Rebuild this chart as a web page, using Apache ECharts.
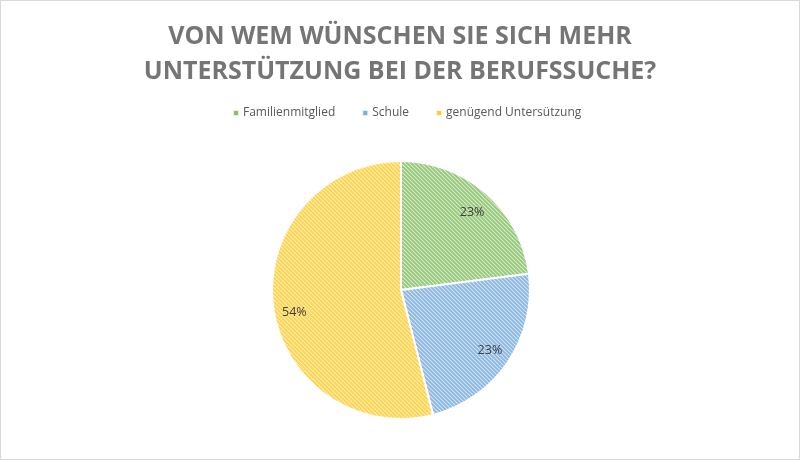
<!DOCTYPE html>
<html>
<head>
<meta charset="utf-8">
<script src="https://cdn.jsdelivr.net/npm/echarts@6/dist/echarts.min.js"></script>
<style>
  html, body { margin: 0; padding: 0; background: #fff; }
  #main { width: 798px; height: 458px; border: 1px solid #d9d9d9; }
</style>
</head>
<body>
<div id="main"></div>
<script>
const titleLines = ['VON WEM WÜNSCHEN SIE SICH MEHR', 'UNTERSTÜTZUNG BEI DER BERUFSSUCHE?'];
const categories = ['Familienmitglied', 'Schule', 'genügend Untersützung'];
const shares = [23, 23, 54];
const lineColors = ['#96c77a', '#8ab6e0', '#ffd34d'];
const backColors = ['#d9eccd', '#d4e5f6', '#ffeeb8'];
const legendColors = ['#70ad47', '#5b9bd5', '#ffc000'];
const labelOffsets = [[0, 3], [0, 0], [0, 9]];

// hatched fill, like the office chart pattern
function hatch(line, back) {
  const c = document.createElement('canvas');
  c.width = 4; c.height = 4;
  const g = c.getContext('2d');
  g.fillStyle = back;
  g.fillRect(0, 0, 4, 4);
  g.strokeStyle = line;
  g.lineWidth = 1.8;
  g.beginPath();
  g.moveTo(-1, -1); g.lineTo(5, 5);
  g.moveTo(-1, 3); g.lineTo(1, 5);
  g.moveTo(3, -1); g.lineTo(5, 1);
  g.stroke();
  return c;
}

const pieData = categories.map((name, i) => ({
  name: name,
  value: shares[i],
  itemStyle: { color: { image: hatch(lineColors[i], backColors[i]), repeat: 'repeat' } }
}));

const myChart = echarts.init(document.getElementById('main'));

myChart.setOption({
  animation: false,
  title: {
    text: titleLines.join('\n'),
    left: 'center',
    top: 13,
    textStyle: {
      fontFamily: 'Open Sans',
      fontWeight: 'bold',
      fontSize: 25,
      color: '#757575',
      lineHeight: 35
    }
  },
  legend: {
    top: 101,
    left: 226,
    itemWidth: 6,
    itemHeight: 6,
    itemGap: 26,
    icon: 'rect',
    data: categories.map((name, i) => ({ name: name, itemStyle: { color: legendColors[i], opacity: 0.8 } })),
    textStyle: { fontFamily: 'Open Sans', fontSize: 12, color: '#595959', padding: [0, 0, 0, -1] }
  },
  series: [
    {
      type: 'pie',
      center: [400, 289],
      radius: [0, 129],
      startAngle: 90,
      clockwise: true,
      silent: true,
      label: { show: false },
      labelLine: { show: false },
      itemStyle: { borderColor: '#fff', borderWidth: 2 },
      data: pieData
    },
    {
      // label-only ring so the percentages sit near the rim
      type: 'pie',
      center: [400, 289],
      radius: [80, 129],
      startAngle: 90,
      clockwise: true,
      silent: true,
      legendHoverLink: false,
      itemStyle: { color: 'rgba(0,0,0,0)' },
      label: {
        show: true,
        position: 'inside',
        formatter: '{c}%',
        fontFamily: 'Open Sans',
        fontSize: 12.5,
        color: '#404040'
      },
      labelLine: { show: false },
      data: categories.map((name, i) => ({ name: name, value: shares[i], label: { offset: labelOffsets[i] } }))
    }
  ]
});
</script>
</body>
</html>
